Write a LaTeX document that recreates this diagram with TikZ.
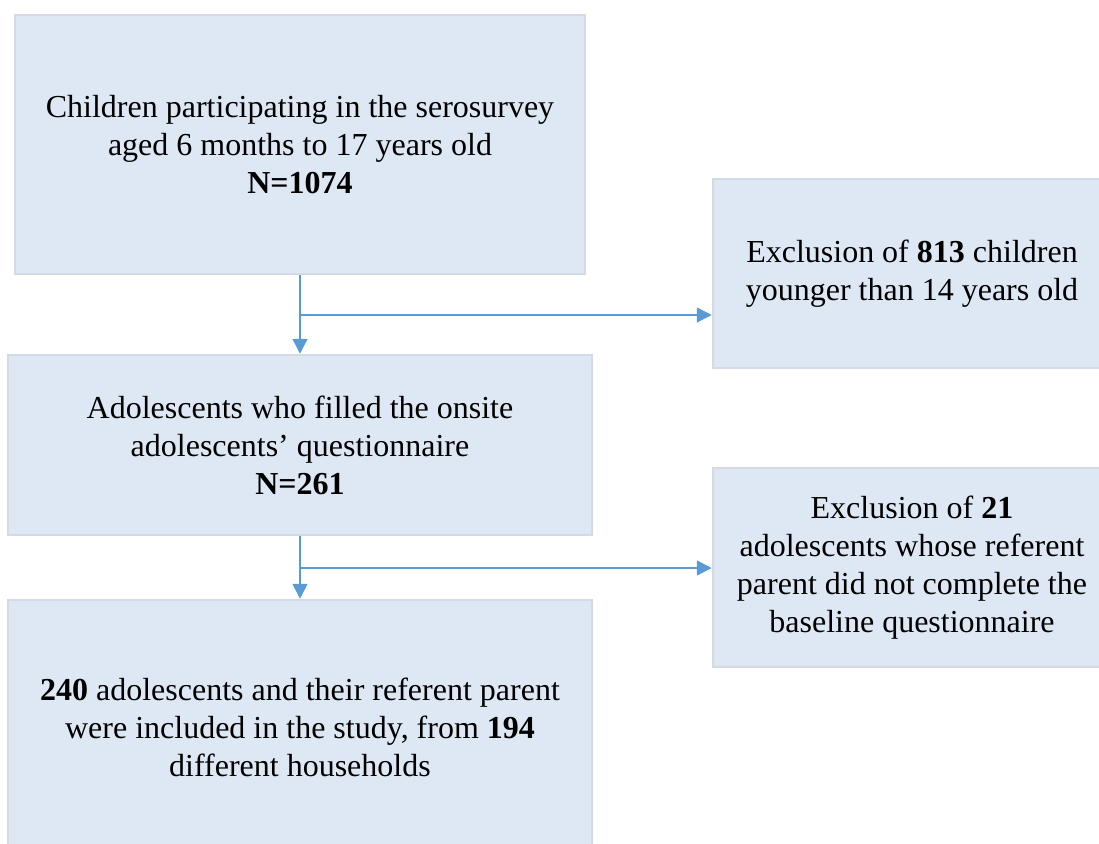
\documentclass[tikz,border=0pt]{standalone}
\usepackage{fontspec}
\setmainfont{Liberation Serif}
\usetikzlibrary{arrows.meta}
\definecolor{boxfill}{HTML}{DEE8F4}
\definecolor{boxline}{HTML}{D3DAE4}
\definecolor{arrowc}{HTML}{5B9BD5}
\tikzset{
  flowbox/.style={draw=boxline, fill=boxfill, line width=2.5pt, inner sep=0pt,
    align=center, font=\fontsize{32}{38}\selectfont},
  flowarrow/.style={draw=arrowc, line width=1.6pt,
    -{Triangle[length=15pt,width=15pt]}}
}
\begin{document}
\begin{tikzpicture}[x=1pt,y=-1pt]
\useasboundingbox (0,0) rectangle (1099,843);
\clip (0,0) rectangle (1099,843);
\node[flowbox, minimum width=570pt, minimum height=259pt] (b1) at (300,144.5)
  {Children participating in the serosurvey\\aged 6 months to 17 years old\\\textbf{N=1074}};
\node[flowbox, minimum width=398pt, minimum height=189pt] (b2) at (912,273.5)
  {Exclusion of \textbf{813} children\\younger than 14 years old};
\node[flowbox, minimum width=584pt, minimum height=180pt] (b3) at (300,445)
  {Adolescents who filled the onsite\\adolescents’ questionnaire\\\textbf{N=261}};
\node[flowbox, minimum width=398pt, minimum height=199pt] (b4) at (912,567.5)
  {Exclusion of \textbf{21}\\adolescents whose referent\\parent did not complete the\\baseline questionnaire};
\node[flowbox, minimum width=584pt, minimum height=255pt] (b5) at (300,727.5)
  {\textbf{240} adolescents and their referent parent\\were included in the study, from \textbf{194}\\different households};
\coordinate (j1) at (300,315);
\coordinate (j2) at (300,568);
\draw[flowarrow] (b1.south) -- (b3.north);
\draw[flowarrow] (j1) -- (j1 -| b2.west);
\draw[flowarrow] (b3.south) -- (b5.north);
\draw[flowarrow] (j2) -- (j2 -| b4.west);
\end{tikzpicture}
\end{document}
